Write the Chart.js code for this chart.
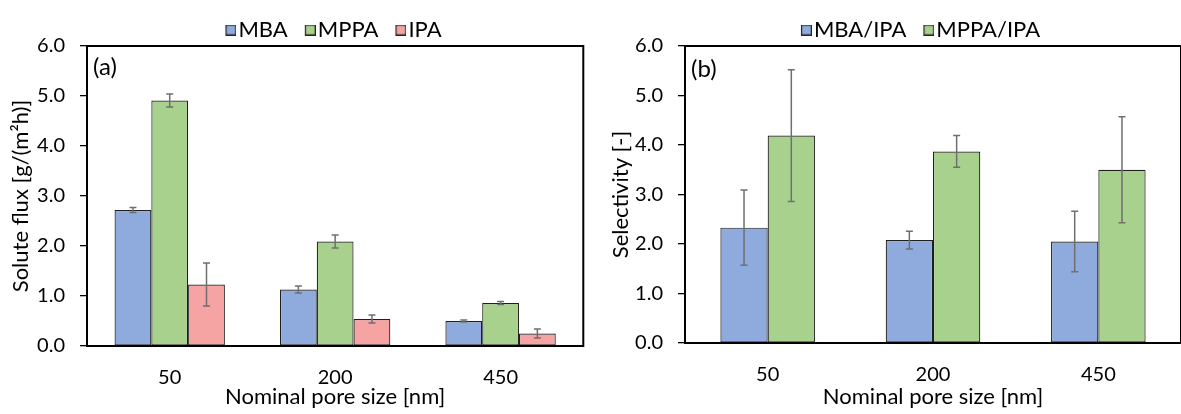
<!DOCTYPE html>
<html><head><meta charset="utf-8">
<script src="https://cdn.jsdelivr.net/npm/chart.js@4.4.1/dist/chart.umd.min.js"></script>
<style>
html,body{margin:0;padding:0;background:#fff;overflow:hidden;width:1181px;height:414px;}
#ca{position:absolute;left:0;top:0;}
#cb{position:absolute;left:590px;top:0;}
</style></head><body>
<canvas id="ca" width="590" height="414"></canvas>
<canvas id="cb" width="592" height="414"></canvas>
<script>
// ---- data ----
const categories = ['50', '200', '450'];
const fluxMBA = [2.72, 1.13, 0.50];
const fluxMBAErr = [0.05, 0.07, 0.02];
const fluxMPPA = [4.91, 2.09, 0.86];
const fluxMPPAErr = [0.13, 0.13, 0.03];
const fluxIPA = [1.23, 0.54, 0.25];
const fluxIPAErr = [0.43, 0.08, 0.09];
const selMBAIPA = [2.33, 2.08, 2.05];
const selMBAIPAErr = [0.76, 0.18, 0.61];
const selMPPAIPA = [4.19, 3.87, 3.50];
const selMPPAIPAErr = [1.33, 0.32, 1.07];
const yMin = 0, yMax = 6, yStep = 1;

// ---- styles ----
const FONT = 'Lato';
const C_BLUE = '#8FAADC', C_GREEN = '#A9D18E', C_PINK = '#F6A3A3';
const C_EDGE = '#1f1f1f', C_ERR = '#6f6f6f';

// legend swatch: 11px box drawn at the right edge of a 19px wide image
function swatch(color) {
  const c = document.createElement('canvas');
  c.width = 19; c.height = 11;
  const g = c.getContext('2d');
  g.fillStyle = color; g.fillRect(8, 0, 11, 11);
  g.strokeStyle = '#262626'; g.lineWidth = 1.2;
  g.strokeRect(8.6, 0.6, 9.8, 9.8);
  return c;
}

const errorBars = {
  id: 'errorBars',
  afterDatasetsDraw(chart) {
    const ctx = chart.ctx, ys = chart.scales.y;
    chart.data.datasets.forEach((ds, i) => {
      if (!ds.errors) return;
      chart.getDatasetMeta(i).data.forEach((bar, j) => {
        const v = ds.data[j], e = ds.errors[j];
        const x = bar.x, yt = ys.getPixelForValue(v + e), yb = ys.getPixelForValue(v - e);
        ctx.save();
        ctx.strokeStyle = C_ERR; ctx.lineWidth = 1.5;
        ctx.beginPath();
        ctx.moveTo(x, yt); ctx.lineTo(x, yb);
        ctx.moveTo(x - 3.5, yt); ctx.lineTo(x + 3.5, yt);
        ctx.moveTo(x - 3.5, yb); ctx.lineTo(x + 3.5, yb);
        ctx.stroke();
        ctx.restore();
      });
    });
  }
};

const frame = {
  id: 'frame',
  afterDatasetsDraw(chart, args, opts) {
    const {ctx, chartArea: a} = chart;
    ctx.save();
    ctx.strokeStyle = '#000'; ctx.lineWidth = 2;
    ctx.strokeRect(a.left, a.top, a.right - a.left, a.bottom - a.top);
    ctx.fillStyle = '#000';
    ctx.font = '24px ' + FONT;
    ctx.textBaseline = 'middle'; ctx.textAlign = 'left';
    ctx.fillText(opts.label, a.left + opts.dx, a.top + opts.dy);
    ctx.restore();
  }
};

const placeLegend = {
  id: 'placeLegend',
  afterLayout(chart, args, opts) {
    const lg = chart.legend; if (!lg) return;
    const w = lg.right - lg.left, h = lg.bottom - lg.top;
    lg.left = opts.cx - w / 2; lg.right = opts.cx + w / 2;
    lg.top = opts.top; lg.bottom = opts.top + h;
  }
};

function makeChart(id, datasets, o) {
  const chart = new Chart(document.getElementById(id), {
    type: 'bar',
    data: { labels: categories, datasets },
    options: {
      responsive: false,
      animation: false,
      layout: { padding: { left: 0, right: o.padRight, top: 6, bottom: 0 } },
      datasets: { bar: { categoryPercentage: o.catPct, barPercentage: 1, borderWidth: 1.2, borderColor: C_EDGE, borderSkipped: false } },
      scales: {
        x: {
          grid: { display: false },
          border: { display: false },
          ticks: { color: '#000', font: { family: FONT, size: 20 }, padding: o.xTickPad },
          title: { display: true, text: 'Nominal pore size [nm]', color: '#000', font: { family: FONT, size: 22 }, padding: { top: 0, bottom: o.xTitlePad } },
          afterFit(s) { s.height = o.xHeight; }
        },
        y: {
          min: yMin, max: yMax,
          grid: { drawOnChartArea: false, drawTicks: true, tickLength: 7, color: '#000', lineWidth: 1.3 },
          border: { display: false },
          ticks: { stepSize: yStep, color: '#000', font: { family: FONT, size: 20 }, padding: 15, callback: v => v.toFixed(1) },
          title: { display: true, text: o.yTitle, color: '#000', font: { family: FONT, size: 22 }, padding: { top: o.yTitlePad, bottom: 0 } },
          afterFit(s) { s.width = o.yWidth; }
        }
      },
      plugins: {
        legend: {
          position: 'top',
          labels: {
            color: '#000', font: { family: FONT, size: 22 }, usePointStyle: true, boxWidth: 1, boxHeight: 11, padding: 18,
            generateLabels(ch) {
              const items = Chart.defaults.plugins.legend.labels.generateLabels(ch);
              items.forEach((it, k) => { it.pointStyle = swatch(ch.data.datasets[k].backgroundColor); });
              return items;
            }
          }
        },
        tooltip: { enabled: false },
        placeLegend: { cx: o.legendCx, top: o.legendTop },
        frame: { label: o.label, dx: 6, dy: o.labelDy }
      }
    },
    plugins: [placeLegend, frame, errorBars]
  });
  const dt = o.top - chart.chartArea.top;
  if (Math.abs(dt) > 0.1) {
    chart.options.layout.padding.top += dt;
    chart.update();
  }
  return chart;
}

document.fonts.load('20px ' + FONT).then(() => {
  makeChart('ca', [
    { label: 'MBA', data: fluxMBA, errors: fluxMBAErr, backgroundColor: C_BLUE },
    { label: 'MPPA', data: fluxMPPA, errors: fluxMPPAErr, backgroundColor: C_GREEN },
    { label: 'IPA', data: fluxIPA, errors: fluxIPAErr, backgroundColor: C_PINK }
  ], {
    padRight: 6.7, catPct: 0.667, xHeight: 68, xTickPad: 12, xTitlePad: 4,
    yWidth: 87, yTitlePad: 8, yTitle: 'Solute flux [g/(m\u00B2h)]',
    legendCx: 334, legendTop: 1, top: 46, label: '(a)', labelDy: 21
  });
  makeChart('cb', [
    { label: 'MBA/IPA', data: selMBAIPA, errors: selMBAIPAErr, backgroundColor: C_BLUE },
    { label: 'MPPA/IPA', data: selMPPAIPA, errors: selMPPAIPAErr, backgroundColor: C_GREEN }
  ], {
    padRight: 1, catPct: 0.572, xHeight: 71, xTickPad: 12, xTitlePad: 4,
    yWidth: 95, yTitlePad: 18, yTitle: 'Selectivity [-]',
    legendCx: 331, legendTop: 1, top: 46, label: '(b)', labelDy: 23
  });
});
</script>
</body></html>
